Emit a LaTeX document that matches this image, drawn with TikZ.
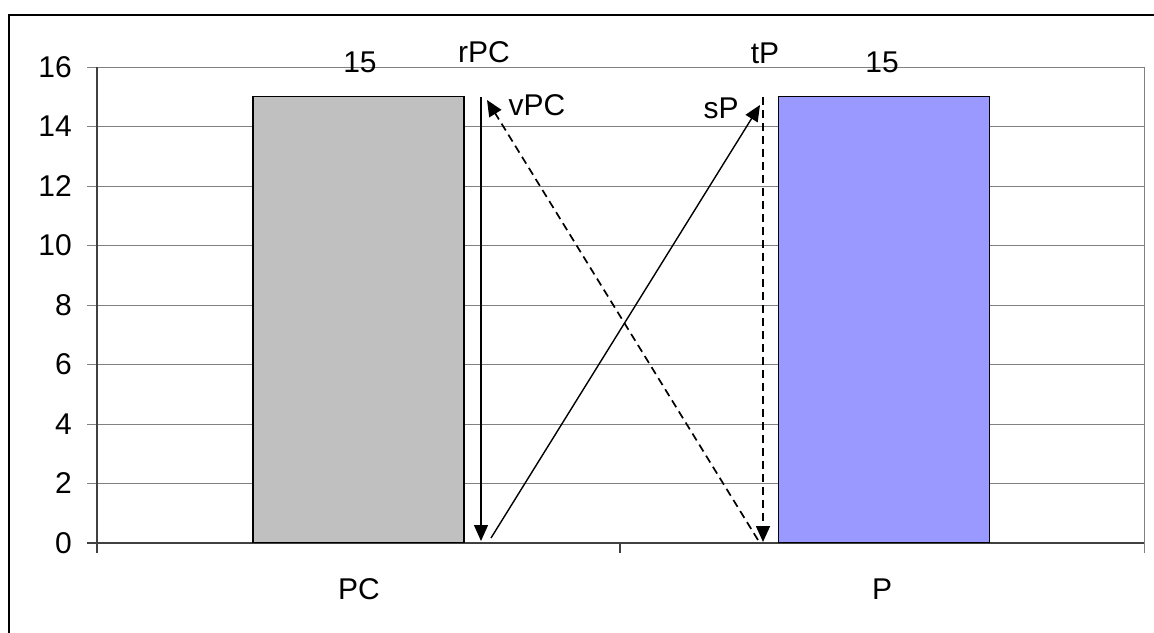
\documentclass[tikz,border=0pt]{standalone}
\usepackage{fontspec}
\setmainfont{Liberation Sans}
\usetikzlibrary{positioning,arrows.meta,calc}
\definecolor{barGray}{HTML}{C0C0C0}
\definecolor{barBlue}{HTML}{9999FF}

\begin{document}
\begin{tikzpicture}[
    x=1pt, y=-1pt,
    gridline/.style={draw=black!50, line width=1pt},
    axisline/.style={draw=black!75, line width=1.2pt},
    bar/.style={rectangle, draw, line width=1.3pt, inner sep=0pt, minimum width=211pt, minimum height=446pt, anchor=south},
    lbl/.style={font=\fontsize{30}{34}\selectfont, inner sep=0pt, anchor=base},
    arrow/.style={-{Triangle[length=16pt,width=14pt]}, line width=1.4pt},
    darrow/.style={arrow, line width=1.7pt, dash pattern=on 8pt off 5pt}
]
\useasboundingbox (0,0) rectangle (1154,632);

% Frame
\draw[line width=2pt] (9,640) |- (1160,15);

% Grid and axis labels
\foreach \v in {2,4,...,16} {
  \draw[gridline] (87,543-\v*29.75) -- (1144,543-\v*29.75);
}
\foreach \v in {0,2,...,16} {
  \node[lbl, anchor=base east] (tick\v) at (72,553-\v*29.75) {\v};
}
\draw[gridline] (1144,67) -- (1144,553);
\draw[axisline] (97,67) -- (97,553);
\draw[axisline] (87,543) -- (1144,543);
\draw[axisline] (620,543) -- (620,553);

% Bars
\node[bar, fill=barGray] (barPC) at (358.5,543) {};
\node[bar, fill=barBlue] (barP) at (884,543) {};
\node[lbl] (valPC) at (360,72) {15};
\node[lbl] (valP) at (882,72) {15};

% Categories
\node[lbl] (catPC) at (359,599) {PC};
\node[lbl] (catP) at (882,599) {P};

% Arrows
\coordinate (rTop) at (481,97);
\coordinate (rBot) at (481,541);
\coordinate (vFrom) at (758,540);
\coordinate (vTo) at (487,100);
\coordinate (sFrom) at (491,538);
\coordinate (sTo) at (760,105);
\coordinate (tTop) at (763,97);
\coordinate (tBot) at (763,542);

\draw[arrow] (rTop) -- (rBot);
\draw[darrow] (vFrom) -- (vTo);
\draw[arrow] (sFrom) -- (sTo);
\draw[darrow] (tTop) -- (tBot);

\node[lbl] (rPC) at (484,62) {rPC};
\node[lbl] (vPC) at (537,115) {vPC};
\node[lbl] (sP) at (721,118) {sP};
\node[lbl] (tP) at (765,63) {tP};

\end{tikzpicture}
\end{document}
